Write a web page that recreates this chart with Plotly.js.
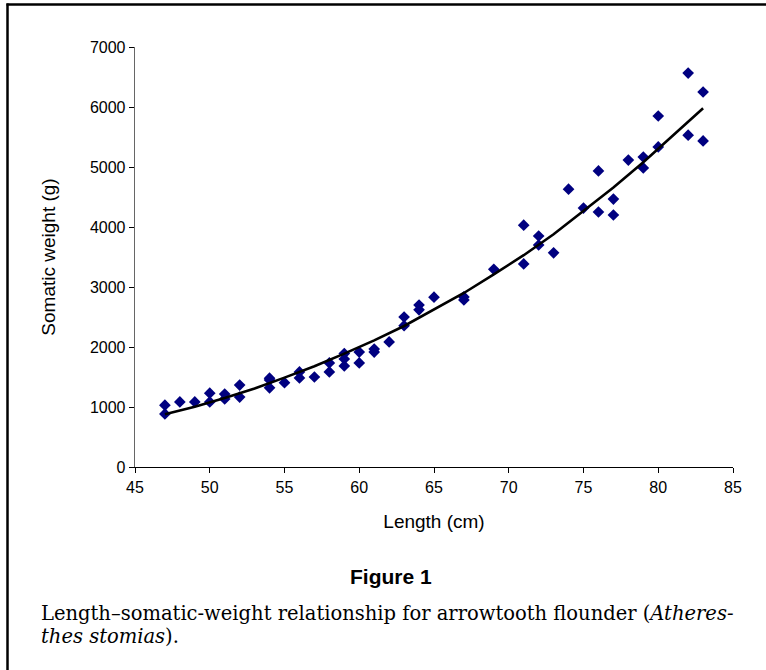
<!DOCTYPE html>
<html>
<head>
<meta charset="utf-8">
<script src="https://cdn.plot.ly/plotly-3.0.1.min.js"></script>
<style>
  html, body { margin: 0; padding: 0; background: #fff; }
  #chart { width: 766px; height: 670px; }
</style>
</head>
<body>
<div id="chart"></div>
<script>
// Observed fish: length (cm) and somatic weight (g)
const lengthCm = [47, 47, 48, 49, 50, 50, 51, 51, 52, 52, 54, 54, 54, 55, 56, 56, 57, 58, 58,
  59, 59, 59, 60, 60, 61, 61, 62, 63, 63, 64, 64, 65, 67, 67, 69, 71, 71, 72, 72, 73,
  74, 75, 76, 76, 77, 77, 78, 79, 79, 80, 80, 82, 82, 83, 83];
const weightG = [1030, 885, 1085, 1085, 1230, 1085, 1215, 1135, 1365, 1165, 1480, 1450, 1320, 1405, 1585, 1485, 1500, 1735, 1585,
  1890, 1800, 1685, 1915, 1735, 1965, 1915, 2085, 2500, 2355, 2700, 2620, 2830, 2835, 2785, 3295, 4030, 3385, 3850, 3700, 3570,
  4630, 4315, 4935, 4250, 4465, 4200, 5115, 5165, 4985, 5850, 5335, 6565, 5530, 6250, 5435];

// Fitted trend line
const trendX = [47, 49, 51, 53, 55, 57, 59, 61, 63, 65, 67, 69, 71, 73, 75, 77, 79, 81, 83];
const trendY = [880, 1005, 1150, 1310, 1490, 1680, 1890, 2110, 2350, 2620, 2900, 3210, 3530, 3880, 4270, 4660, 5080, 5530, 5980];

const xTicks = [45, 50, 55, 60, 65, 70, 75, 80, 85];
const yTicks = [0, 1000, 2000, 3000, 4000, 5000, 6000, 7000];

const figTitle = 'Figure 1';
const captionLine1 = 'Length–somatic-weight relationship for arrowtooth flounder (<i>Atheres-</i>';
const captionLine2 = '<i>thes stomias</i>).';

// pixel -> paper helpers (plot area: x 135..733, y 47..467)
const L = 135, R = 733, T = 47, B = 467;
const px = v => (v - L) / (R - L);
const py = v => (B - v) / (B - T);

const traces = [
  {
    x: lengthCm, y: weightG, type: 'scatter', mode: 'markers',
    marker: { symbol: 'diamond', size: 9, color: '#000080' },
    hoverinfo: 'x+y', showlegend: false
  },
  {
    x: trendX, y: trendY, type: 'scatter', mode: 'lines',
    line: { color: '#000000', width: 2.6 },
    hoverinfo: 'skip', showlegend: false
  }
];

const layout = {
  width: 766, height: 670,
  margin: { l: L, r: 766 - R, t: T, b: 670 - B },
  paper_bgcolor: '#ffffff', plot_bgcolor: '#ffffff',
  font: { family: 'Arial, Liberation Sans, sans-serif', color: '#000', size: 16 },
  showlegend: false,
  xaxis: {
    range: [45, 85], tickvals: xTicks, ticktext: xTicks.map(String),
    showgrid: false, zeroline: false,
    showline: true, linecolor: '#000', linewidth: 1.3,
    ticks: 'outside', ticklen: 5, tickcolor: '#000', tickwidth: 1,
    tickfont: { size: 16 },
    title: { text: 'Length (cm)', font: { size: 19 }, standoff: 20 }
  },
  yaxis: {
    range: [0, 7000], tickvals: yTicks, ticktext: yTicks.map(String),
    showgrid: false, zeroline: false,
    showline: true, linecolor: '#666', linewidth: 1.3,
    ticks: 'outside', ticklen: 5, tickcolor: '#000', tickwidth: 1,
    tickfont: { size: 16 },
    title: { text: 'Somatic weight (g)', font: { size: 19 }, standoff: 29 }
  },
  shapes: [
    { type: 'line', xref: 'paper', yref: 'paper', x0: px(7.5), x1: px(7.5), y0: py(3.5), y1: py(672),
      line: { color: '#000', width: 2.5 } },
    { type: 'line', xref: 'paper', yref: 'paper', x0: px(6.5), x1: px(770), y0: py(4.5), y1: py(4.5),
      line: { color: '#000', width: 2.5 } }
  ],
  annotations: [
    { text: '<b>' + figTitle + '</b>', xref: 'paper', yref: 'paper', x: px(391), y: py(576),
      xanchor: 'center', yanchor: 'middle', showarrow: false,
      font: { family: 'Liberation Sans, Arial, sans-serif', size: 21, color: '#000' } },
    { text: captionLine1, xref: 'paper', yref: 'paper', x: px(39), y: py(613),
      xanchor: 'left', yanchor: 'middle', showarrow: false,
      font: { family: 'DejaVu Serif, serif', size: 19.5, color: '#000' } },
    { text: captionLine2, xref: 'paper', yref: 'paper', x: px(39), y: py(636),
      xanchor: 'left', yanchor: 'middle', showarrow: false,
      font: { family: 'DejaVu Serif, serif', size: 19.5, color: '#000' } }
  ]
};

Plotly.newPlot('chart', traces, layout, { displayModeBar: false, staticPlot: true });
</script>
</body>
</html>
